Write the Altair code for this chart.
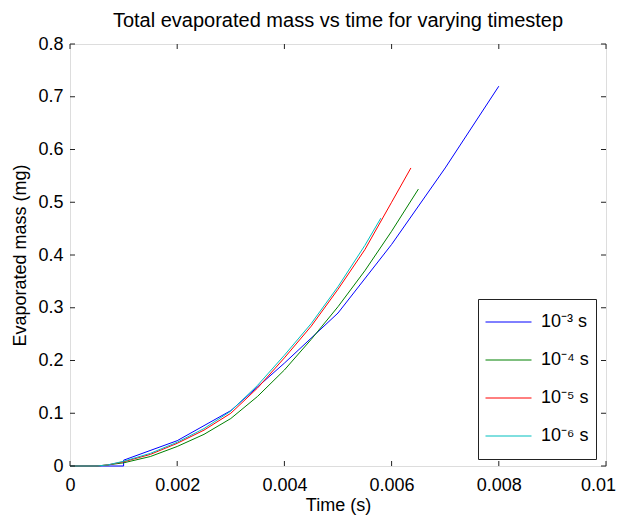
import altair as alt
import pandas as pd

# ---- data ----
t_dt3 = [0, 0.001, 0.001, 0.002, 0.003, 0.004, 0.005, 0.006, 0.007, 0.008]
m_dt3 = [0, 0, 0.011, 0.048, 0.105, 0.195, 0.29, 0.42, 0.565, 0.72]

t_dt4 = [0, 0.0005, 0.0007, 0.001, 0.0015, 0.002, 0.0025, 0.003, 0.0035, 0.004, 0.0045, 0.005, 0.0055, 0.006, 0.0065]
m_dt4 = [0, 0, 0.002, 0.006, 0.018, 0.037, 0.06, 0.09, 0.132, 0.182, 0.24, 0.302, 0.37, 0.445, 0.525]

t_dt5 = [0, 0.0005, 0.0007, 0.001, 0.0015, 0.002, 0.0025, 0.003, 0.0035, 0.004, 0.0045, 0.005, 0.0055, 0.006, 0.00636]
m_dt5 = [0, 0, 0.002, 0.008, 0.022, 0.043, 0.068, 0.1, 0.148, 0.205, 0.265, 0.335, 0.41, 0.5, 0.565]

t_dt6 = [0, 0.0005, 0.0007, 0.001, 0.0015, 0.002, 0.0025, 0.003, 0.0035, 0.004, 0.0045, 0.005, 0.0055, 0.0058]
m_dt6 = [0, 0, 0.002, 0.009, 0.024, 0.045, 0.071, 0.104, 0.153, 0.21, 0.27, 0.34, 0.418, 0.47]

labels = ["10⁻³ s", "10⁻⁴ s", "10⁻⁵ s", "10⁻⁶ s"]
colors = ["#0000FF", "#008000", "#FF0000", "#00BFBF"]

x_ticks = [0, 0.002, 0.004, 0.006, 0.008, 0.01]
y_ticks = [0, 0.1, 0.2, 0.3, 0.4, 0.5, 0.6, 0.7, 0.8]

W, H = 536, 422
FONT = "Liberation Sans"
INK = "#222222"

series = [(labels[0], t_dt3, m_dt3), (labels[1], t_dt4, m_dt4),
          (labels[2], t_dt5, m_dt5), (labels[3], t_dt6, m_dt6)]

x_scale = alt.Scale(domain=[0, 0.01], nice=False, zero=False)
y_scale = alt.Scale(domain=[0, 0.8], nice=False, zero=False)
color_scale = alt.Scale(domain=labels, range=colors)

x_axis = alt.Axis(values=x_ticks, format="~g", title="Time (s)", ticks=False, tickSize=0,
                  domain=False, grid=False, labelPadding=10, labelFlush=False,
                  labelOffset={"condition": {"test": "datum.value >= 0.01", "value": -8}, "value": 0},
                  labelFontSize=18, labelFont=FONT, labelColor="black",
                  titleFontSize=18, titleFont=FONT, titleFontWeight="normal", titleColor="black",
                  titleY=39, titleBaseline="middle")
y_axis = alt.Axis(values=y_ticks, format="~g", title="Evaporated mass (mg)", ticks=False, tickSize=0,
                  domain=False, grid=False, labelPadding=7, labelFlush=False,
                  labelFontSize=18, labelFont=FONT, labelColor="black",
                  titleFontSize=18, titleFont=FONT, titleFontWeight="normal", titleColor="black",
                  titleX=-50, titleBaseline="middle")

legend = alt.Legend(orient="none", legendX=408, legendY=255, symbolType="stroke",
                    symbolSize=2116, symbolStrokeWidth=1, labelFontSize=18, labelFont=FONT,
                    labelColor="black", labelOffset=9, padding=7, rowPadding=6, clipHeight=32,
                    strokeColor=INK, fillColor="white")

layers = []
for lab, t, m in series:
    df = pd.DataFrame({"t": t, "m": m, "series": lab, "idx": list(range(len(t)))})
    layers.append(
        alt.Chart(df).mark_line(strokeWidth=1).encode(
            x=alt.X("t:Q", scale=x_scale, axis=x_axis),
            y=alt.Y("m:Q", scale=y_scale, axis=y_axis),
            color=alt.Color("series:N", scale=color_scale, legend=legend, title=None),
            order="idx:Q",
        )
    )

xt = pd.DataFrame({"t": x_ticks})
yt = pd.DataFrame({"m": y_ticks})
tick_bottom = alt.Chart(xt).mark_rule(color=INK, strokeWidth=1).encode(
    x=alt.X("t:Q", scale=x_scale, axis=x_axis), y=alt.value(H), y2=alt.value(H - 5))
tick_top = alt.Chart(xt).mark_rule(color=INK, strokeWidth=1).encode(
    x=alt.X("t:Q", scale=x_scale, axis=x_axis), y=alt.value(0), y2=alt.value(5))
tick_left = alt.Chart(yt).mark_rule(color=INK, strokeWidth=1).encode(
    y=alt.Y("m:Q", scale=y_scale, axis=y_axis), x=alt.value(0), x2=alt.value(5))
tick_right = alt.Chart(yt).mark_rule(color=INK, strokeWidth=1).encode(
    y=alt.Y("m:Q", scale=y_scale, axis=y_axis), x=alt.value(W), x2=alt.value(W - 5))

chart = alt.layer(*layers, tick_bottom, tick_top, tick_left, tick_right).properties(
    width=W, height=H,
    title=alt.TitleParams("Total evaporated mass vs time for varying timestep", fontSize=20,
                          font=FONT, fontWeight="normal", color="black", offset=4, anchor="middle"),
    autosize=alt.AutoSizeParams(type="none"),
    padding={"left": 62, "top": 36, "right": 10, "bottom": 49},
).configure_view(stroke=INK, strokeWidth=1).configure(background="white")

chart.save("out.html", embed_options={"renderer": "svg", "actions": False})
